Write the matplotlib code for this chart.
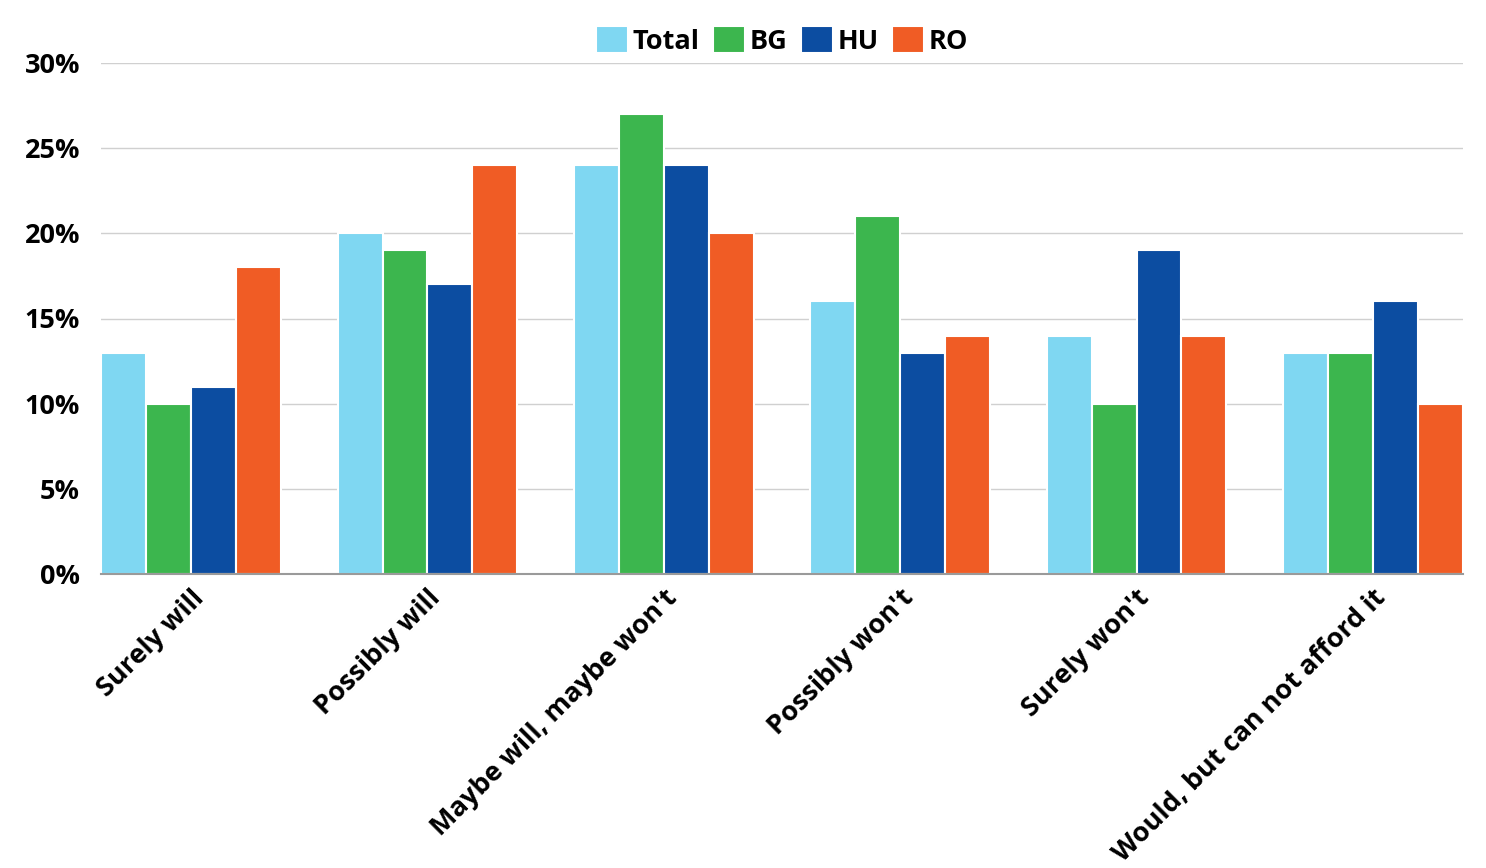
import numpy as np
import matplotlib.pyplot as plt
from matplotlib.ticker import FuncFormatter

categories = ["Surely will", "Possibly will", "Maybe will, maybe won't",
              "Possibly won't", "Surely won't", "Would, but can not afford it"]
series = ["Total", "BG", "HU", "RO"]
total = [13, 20, 24, 16, 14, 13]
bg = [10, 19, 27, 21, 10, 13]
hu = [11, 17, 24, 13, 19, 16]
ro = [18, 24, 20, 14, 14, 10]
colors = ["#7fd7f2", "#3cb64e", "#0c4da1", "#f05c25"]

plt.rcParams['font.family'] = ['Open Sans', 'DejaVu Sans']
plt.rcParams['font.weight'] = 'bold'

fig = plt.figure(figsize=(14.86, 8.68), dpi=100)
ax = fig.add_axes([101 / 1486, 1 - 574 / 868, 1362 / 1486, 511 / 868])

x = np.arange(len(categories))
width = 0.19
for i, (name, vals) in enumerate(zip(series, [total, bg, hu, ro])):
    ax.bar(x + (i - 1.5) * width, vals, width, color=colors[i], label=name,
           edgecolor="white", linewidth=1.5, zorder=3)

ax.set_xlim(-0.381, 5.381)
ax.set_ylim(0, 30)
ax.set_yticks(range(0, 31, 5))
ax.yaxis.set_major_formatter(FuncFormatter(lambda v, p: f"{v:.0f}%"))
ax.grid(axis="y", color="#d0d0d0", linewidth=1, zorder=0)
for s in ["top", "right", "left"]:
    ax.spines[s].set_visible(False)
ax.spines["bottom"].set_color("#9a9a9a")
ax.spines["bottom"].set_linewidth(1.5)
ax.spines["bottom"].set_zorder(4)
ax.tick_params(axis="both", length=0, labelsize=19.5)
ax.tick_params(axis="y", pad=15)
ax.tick_params(axis="x", pad=8)
ax.set_xticks(x)
ax.set_xticklabels(categories, rotation=45, ha="right", rotation_mode="anchor",
                   fontsize=19.5)

ax.legend(loc="lower center", bbox_to_anchor=(0.5, 0.99), ncol=4, frameon=False,
          fontsize=19.5, handlelength=1.17, handleheight=1.17, handletextpad=0.18,
          columnspacing=0.5, borderaxespad=0.1)

fig.savefig("out.png", dpi=100)
